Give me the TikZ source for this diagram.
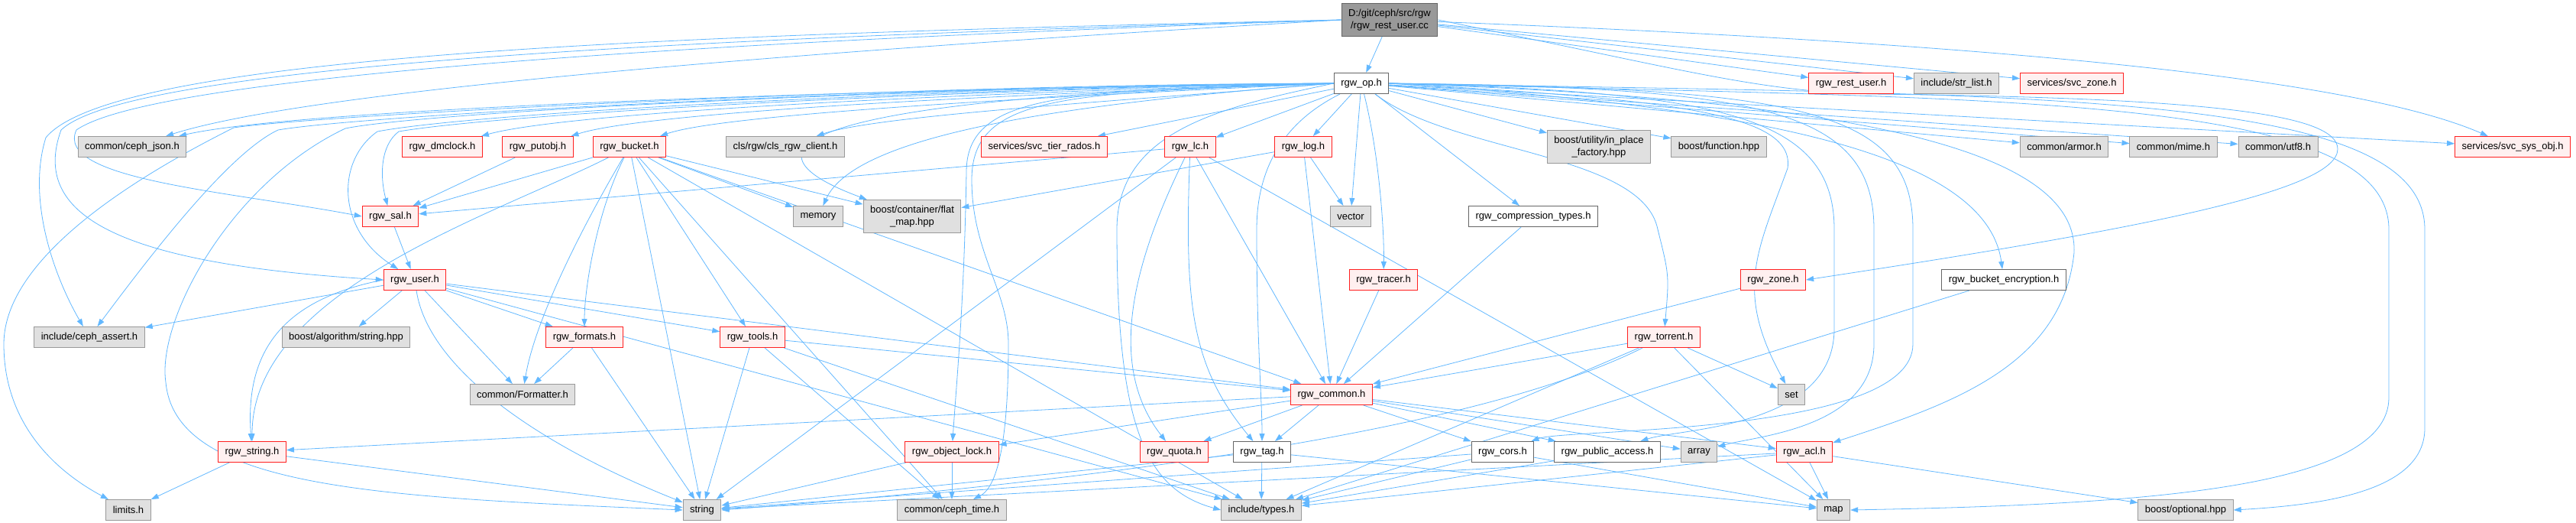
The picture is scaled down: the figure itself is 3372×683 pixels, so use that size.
\documentclass[tikz,border=0pt]{standalone}
\usepackage{fontspec}
\setmainfont{Liberation Sans}
\usetikzlibrary{arrows.meta}
\definecolor{edgeblue}{HTML}{63B8FF}
\definecolor{truncline}{HTML}{FF2020}
\definecolor{truncfill}{HTML}{FFF0F0}
\definecolor{sysline}{HTML}{999999}
\definecolor{sysfill}{HTML}{E0E0E0}
\definecolor{docline}{HTML}{666666}
\definecolor{rootfill}{HTML}{999999}
\pgfdeclarelayer{bg}
\pgfsetlayers{bg,main}

\begin{document}
\begin{tikzpicture}[x=1pt,y=-1pt,font=\fontsize{13}{16}\selectfont,
 hdr/.style={draw,line width=1pt,inner xsep=9pt,inner ysep=3pt,minimum height=27pt,align=center},
 trunc/.style={hdr,draw=truncline,fill=truncfill},
 sys/.style={hdr,draw=sysline,fill=sysfill},
 doc/.style={hdr,draw=docline,fill=white},
 rootbox/.style={hdr,draw=docline,fill=rootfill},
 twoline/.style={minimum height=43pt},
 dep/.style={draw=edgeblue,line width=0.8pt,-{Triangle[length=10pt,width=7pt]}}]
\useasboundingbox (0,0) rectangle (3372,683);
% the source file and its first level
\node[rootbox,twoline] (root) at (1819,26) {D:/git/ceph/src/rgw\\/rgw\_rest\_user.cc};
\node[doc] (op) at (1782,109) {rgw\_op.h};
\node[trunc] (resthdr) at (2423,109) {rgw\_rest\_user.h};
\node[sys] (strlist) at (2561,109) {include/str\_list.h};
\node[trunc] (svczone) at (2712,109) {services/svc\_zone.h};
% row 2
\node[sys] (cephjson) at (173,192) {common/ceph\_json.h};
\node[trunc] (dmclock) at (579,192) {rgw\_dmclock.h};
\node[trunc] (putobj) at (704,192) {rgw\_putobj.h};
\node[trunc] (bucket) at (824,192) {rgw\_bucket.h};
\node[sys] (clsclient) at (1028,192) {cls/rgw/cls\_rgw\_client.h};
\node[trunc] (tierrados) at (1367,192) {services/svc\_tier\_rados.h};
\node[trunc] (lc) at (1558,192) {rgw\_lc.h};
\node[trunc] (log) at (1706,192) {rgw\_log.h};
\node[sys,twoline] (inplace) at (2093,192) {boost/utility/in\_place\\\_factory.hpp};
\node[sys] (function) at (2250,192) {boost/function.hpp};
\node[sys] (armor) at (2702,192) {common/armor.h};
\node[sys] (mime) at (2845,192) {common/mime.h};
\node[sys] (utf8) at (2982,192) {common/utf8.h};
\node[trunc] (sysobj) at (3289,192) {services/svc\_sys\_obj.h};
% row 3 and 4
\node[trunc] (sal) at (511,283) {rgw\_sal.h};
\node[sys] (memory) at (1071,283) {memory};
\node[sys,twoline] (flatmap) at (1194,283) {boost/container/flat\\\_map.hpp};
\node[sys] (vector) at (1768,283) {vector};
\node[doc] (comptypes) at (2007,283) {rgw\_compression\_types.h};
\node[trunc] (user) at (543,366) {rgw\_user.h};
\node[trunc] (tracer) at (1811,366) {rgw\_tracer.h};
\node[trunc] (zone) at (2321,366) {rgw\_zone.h};
\node[doc] (bucketenc) at (2623,366) {rgw\_bucket\_encryption.h};
% row 5 and 6
\node[sys] (assert) at (117,441) {include/ceph\_assert.h};
\node[sys] (algostring) at (453,441) {boost/algorithm/string.hpp};
\node[trunc] (formats) at (765,441) {rgw\_formats.h};
\node[trunc] (tools) at (985,441) {rgw\_tools.h};
\node[trunc] (torrent) at (2178,441) {rgw\_torrent.h};
\node[sys] (formatter) at (684,516) {common/Formatter.h};
\node[trunc] (common) at (1743,516) {rgw\_common.h};
\node[sys] (set) at (2345,516) {set};
% row 7 and 8
\node[trunc] (rgwstring) at (330,591) {rgw\_string.h};
\node[trunc] (objlock) at (1246,591) {rgw\_object\_lock.h};
\node[trunc] (quota) at (1537,591) {rgw\_quota.h};
\node[doc] (tag) at (1652,591) {rgw\_tag.h};
\node[doc] (cors) at (1967,591) {rgw\_cors.h};
\node[doc] (pubaccess) at (2104,591) {rgw\_public\_access.h};
\node[sys] (array) at (2224,591) {array};
\node[trunc] (acl) at (2362,591) {rgw\_acl.h};
\node[sys] (limits) at (168,667) {limits.h};
\node[sys] (string) at (919,667) {string};
\node[sys] (cephtime) at (1246,667) {common/ceph\_time.h};
\node[sys] (types) at (1651,667) {include/types.h};
\node[sys] (map) at (2400,667) {map};
\node[sys] (optional) at (2861,667) {boost/optional.hpp};

\begin{pgfonlayer}{bg}
% includes of the source file
\draw[dep] (root) -- (op);
\draw[dep] (root) -- (resthdr);
\draw[dep] (root) -- (strlist);
\draw[dep] (root) -- (svczone);
\draw[dep] (root) .. controls (2700,60) and (3100,110) .. (sysobj);
\draw[dep] (root.east) .. controls (2200,90) and (2300,120) .. (2450,123) .. controls (2900,128) and (3060,150) .. (3060,195) .. controls (3060,250) and (2800,300) .. (zone.east);
\draw[dep] (root.west) .. controls (1000,70) and (400,120) .. (cephjson);
\draw[dep] (root.west) .. controls (900,45) and (150,70) .. (60,180) .. controls (35,260) and (70,360) .. (assert);
\draw[dep] (root.west) .. controls (900,50) and (170,85) .. (80,170) .. controls (40,280) and (150,345) .. (user.west);
\draw[dep] (root.west) .. controls (900,55) and (200,100) .. (100,170) .. controls (70,235) and (300,250) .. (sal.west);
% rgw_op.h, to the left
\draw[dep] (op.west) .. controls (1200,115) and (400,140) .. (cephjson);
\draw[dep] (op.west) .. controls (1300,120) and (750,145) .. (dmclock);
\draw[dep] (op.west) .. controls (1350,122) and (850,145) .. (putobj);
\draw[dep] (op.west) .. controls (1400,125) and (950,148) .. (bucket);
\draw[dep] (op.west) .. controls (1500,130) and (1150,150) .. (clsclient);
\draw[dep] (op) -- (tierrados);
\draw[dep] (op) -- (lc);
\draw[dep] (op) -- (log);
\draw[dep] (op.west) .. controls (1400,135) and (1120,175) .. (memory);
\draw[dep] (op.west) .. controls (1100,125) and (930,185) .. (flatmap);
\draw[dep] (op.west) .. controls (1200,118) and (650,150) .. (522,172) .. controls (498,190) and (497,230) .. (sal);
\draw[dep] (op.west) .. controls (1200,116) and (620,148) .. (494,172) .. controls (440,210) and (440,300) .. (user);
\draw[dep] (op.west) .. controls (1200,114) and (560,146) .. (452,168) .. controls (300,240) and (205,420) .. (217,500) .. controls (230,640) and (500,650) .. (string.west);
\draw[dep] (op.west) .. controls (1200,112) and (480,150) .. (364,170) .. controls (300,200) and (200,330) .. (assert);
\draw[dep] (op.west) .. controls (1200,110) and (420,150) .. (306,167) .. controls (200,220) and (5,330) .. (5,450) .. controls (5,560) and (80,620) .. (limits);
\draw[dep] (op.west) .. controls (1400,120) and (1265,120) .. (1265,225) .. controls (1262,400) and (1252,500) .. (objlock);
\draw[dep] (op.west) .. controls (1400,122) and (1272,122) .. (1272,235) .. controls (1272,330) and (1320,380) .. (1320,450) .. controls (1320,600) and (1300,640) .. (cephtime);
\draw[dep] (op.west) .. controls (1600,140) and (1462,170) .. (1462,300) .. controls (1462,560) and (1500,640) .. (types.west);
\draw[dep] (op) .. controls (1700,150) and (1645,200) .. (1645,300) .. controls (1645,450) and (1652,520) .. (tag);
% rgw_op.h, down and to the right
\draw[dep] (op) -- (vector);
\draw[dep] (op) -- (comptypes);
\draw[dep] (op) .. controls (1805,200) and (1812,300) .. (tracer);
\draw[dep] (op) -- (inplace);
\draw[dep] (op) -- (function);
\draw[dep] (op) -- (armor);
\draw[dep] (op) -- (mime);
\draw[dep] (op) -- (utf8);
\draw[dep] (op) -- (sysobj);
\draw[dep] (op.east) .. controls (2300,140) and (2600,200) .. (bucketenc);
\draw[dep] (op) .. controls (1900,200) and (2150,200) .. (2170,300) .. controls (2185,360) .. (torrent);
\draw[dep] (op.east) .. controls (2200,130) and (2350,150) .. (2340,220) .. controls (2300,330) and (2270,380) .. (set);
\draw[dep] (op.east) .. controls (2250,120) and (2401,150) .. (2401,300) -- (2401,430) .. controls (2401,560) and (2200,560) .. (pubaccess);
\draw[dep] (op.east) .. controls (2300,115) and (2453,140) .. (2453,300) -- (2453,450) .. controls (2453,560) and (2300,570) .. (array);
\draw[dep] (op.east) .. controls (2350,115) and (2504,140) .. (2504,300) -- (2504,450) .. controls (2504,570) and (2050,560) .. (cors);
\draw[dep] (op.east) .. controls (2450,130) and (2720,200) .. (2715,330) .. controls (2700,480) and (2550,530) .. (acl);
\draw[dep] (op.east) .. controls (2600,130) and (3127,120) .. (3127,300) -- (3127,520) .. controls (3127,640) and (2800,660) .. (map.east);
\draw[dep] (op.east) .. controls (2650,125) and (3174,115) .. (3174,300) -- (3174,560) .. controls (3174,640) and (3050,660) .. (optional.east);
% rgw_bucket.h
\draw[dep] (bucket) -- (sal);
\draw[dep] (bucket) .. controls (650,280) and (330,380) .. (rgwstring);
\draw[dep] (bucket) .. controls (760,300) and (700,420) .. (formatter);
\draw[dep] (bucket) .. controls (780,280) and (765,380) .. (formats);
\draw[dep] (bucket) -- (string);
\draw[dep] (bucket) -- (tools);
\draw[dep] (bucket) -- (cephtime);
\draw[dep] (bucket) -- (types);
\draw[dep] (bucket) -- (common);
\draw[dep] (bucket) -- (memory);
\draw[dep] (bucket) -- (flatmap);
\draw[dep] (putobj) -- (sal);
\draw[dep] (sal) -- (user);
% rgw_user.h
\draw[dep] (user) -- (assert);
\draw[dep] (user) -- (algostring);
\draw[dep] (user.west) .. controls (380,390) and (320,450) .. (rgwstring);
\draw[dep] (user) -- (formats);
\draw[dep] (user) -- (tools);
\draw[dep] (user) -- (formatter);
\draw[dep] (user) .. controls (560,480) and (700,580) .. (string);
\draw[dep] (user) -- (common);
\draw[dep] (user) -- (types);
\draw[dep] (formats) -- (formatter);
\draw[dep] (formats) -- (string);
\draw[dep] (tools) -- (string);
\draw[dep] (tools) -- (cephtime);
\draw[dep] (tools) -- (types);
\draw[dep] (tools) -- (common);
\draw[dep] (rgwstring) -- (limits);
\draw[dep] (rgwstring) -- (string);
% rgw_lc.h, rgw_log.h and the others over rgw_common.h
\draw[dep] (lc) -- (sal);
\draw[dep] (lc) -- (string);
\draw[dep] (lc) .. controls (1480,350) and (1450,480) .. (quota);
\draw[dep] (lc) .. controls (1550,400) and (1560,480) .. (tag);
\draw[dep] (lc) -- (common);
\draw[dep] (lc) -- (map);
\draw[dep] (log) -- (flatmap);
\draw[dep] (log) -- (vector);
\draw[dep] (log) -- (common);
\draw[dep] (tracer) -- (common);
\draw[dep] (comptypes) -- (common);
\draw[dep] (zone) -- (common);
\draw[dep] (torrent) -- (common);
\draw[dep] (torrent) -- (set);
\draw[dep] (torrent) -- (map);
\draw[dep] (torrent) .. controls (1900,580) and (1300,640) .. (string.east);
\draw[dep] (torrent) -- (types);
\draw[dep] (bucketenc) -- (types);
% rgw_common.h
\draw[dep] (common) -- (rgwstring);
\draw[dep] (common) -- (objlock);
\draw[dep] (common) -- (quota);
\draw[dep] (common) -- (tag);
\draw[dep] (common) -- (cors);
\draw[dep] (common) -- (pubaccess);
\draw[dep] (common) -- (array);
\draw[dep] (common) -- (acl);
% bottom row
\draw[dep] (tag) -- (types);
\draw[dep] (tag) -- (string);
\draw[dep] (tag) -- (map);
\draw[dep] (cors) -- (string);
\draw[dep] (cors) -- (types);
\draw[dep] (cors) -- (map);
\draw[dep] (pubaccess) -- (types);
\draw[dep] (acl) -- (map);
\draw[dep] (acl) -- (optional);
\draw[dep] (acl) -- (types);
\draw[dep] (acl) -- (string);
\draw[dep] (objlock) -- (cephtime);
\draw[dep] (objlock) -- (string);
\end{pgfonlayer}
\end{tikzpicture}
\end{document}
